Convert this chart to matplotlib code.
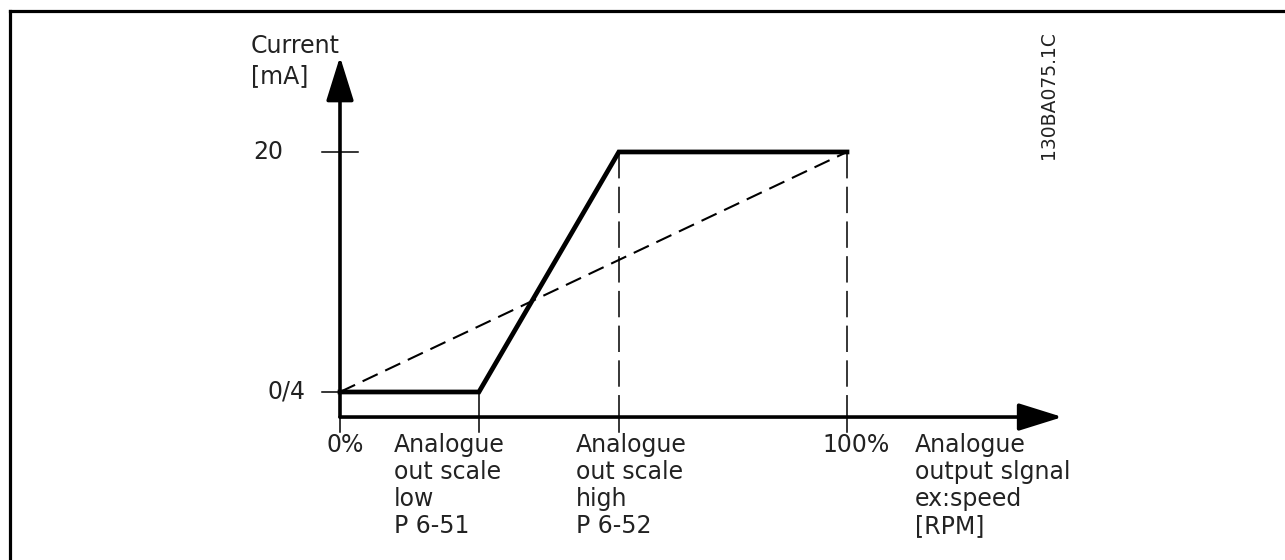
import matplotlib
matplotlib.use("Agg")
import matplotlib.pyplot as plt
from matplotlib.lines import Line2D

# data (x in % of signal, y in mA)
scale_low = 27.4
scale_high = 55.0
out_x = [0, scale_low, scale_high, 100]
out_ma = [4, 4, 20, 20]
lin_x = [0, 100]
lin_ma = [4, 20]
y_ticks = [4, 20]
y_tick_labels = ["0/4", "20"]
x_marks = [0, scale_low, scale_high, 100]
x_mark_labels = [
    "0%",
    "Analogue\nout scale\nlow\nP 6-51",
    "Analogue\nout scale\nhigh\nP 6-52",
    "100%",
]
x_axis_label = "Analogue\noutput slgnal\nex:speed\n[RPM]"
y_axis_label = "Current\n[mA]"
doc_id = "130BA075.1C"

plt.rcParams["font.family"] = ["DejaVu Sans"]
plt.rcParams["lines.scale_dashes"] = False
txt = "#222222"
fs = 17

fig = plt.figure(figsize=(12.85, 5.6), dpi=100)
ax = fig.add_axes([0, 0, 1, 1])
ax.set_xlim(-67.06, 186.39)
ax.set_ylim(-7.2, 30.13)
ax.axis("off")

# frame around the figure (top and left only)
fig.add_artist(Line2D([0.0075, 1.0], [0.9804, 0.9804], color="black", lw=2.3,
                      transform=fig.transFigure, solid_capstyle="projecting"))
fig.add_artist(Line2D([0.0078, 0.0078], [0.0, 0.9804], color="black", lw=2.3,
                      transform=fig.transFigure, solid_capstyle="projecting"))

y_axis_at = 2.33   # where the horizontal axis crosses
y_top = 26.35
x_end = 142.5

arrow = dict(arrowstyle="-|>,head_length=0.8,head_width=0.25", mutation_scale=34,
             color="black", lw=2.6, shrinkA=0, shrinkB=0)
ax.annotate("", xy=(0, y_top), xytext=(0, y_axis_at), arrowprops=arrow)
ax.annotate("", xy=(x_end, y_axis_at), xytext=(0, y_axis_at), arrowprops=arrow)

# y ticks
ax.plot([-3.5, 3.6], [20, 20], color="black", lw=1.1)
ax.plot([-3.5, 0], [4, 4], color="black", lw=1.1)
tick_label_right = [-6.9, -11.2]
for v, lab, xr in zip(y_ticks, y_tick_labels, tick_label_right):
    ax.text(xr, v, lab, ha="right", va="center", fontsize=fs, color=txt)

# x marks below the axis and dashed guides
for xm in x_marks:
    ax.plot([xm, xm], [y_axis_at, 1.33], color="black", lw=1.1)
ax.plot([scale_low, scale_low], [4, y_axis_at], color="black", lw=1.1)
for xm in [scale_high, 100]:
    ax.plot([xm, xm], [20, y_axis_at], color="black", lw=1.1,
            dashes=(19, 6))

# curves
ax.plot(lin_x, lin_ma, color="black", lw=1.5, dashes=(12, 6))
ax.plot(out_x, out_ma, color="black", lw=3.4, solid_joinstyle="miter")

# labels (va baseline = baseline of the last line)
label_left = [-2.6, 10.7, 46.6, 95.1]
for xl, lab in zip(label_left, x_mark_labels):
    ax.text(xl, -5.4 if "\n" in lab else 0.0, lab, ha="left", va="baseline",
            fontsize=fs, color=txt, linespacing=1.15)
ax.text(113.4, -5.4, x_axis_label, ha="left", va="baseline", fontsize=fs,
        color=txt, linespacing=1.15)
ax.text(-17.55, 24.6, y_axis_label, ha="left", va="baseline", fontsize=fs,
        color=txt, linespacing=1.3)
ax.text(139.7, 23.8, doc_id, rotation=90, ha="center", va="center",
        fontsize=13.5, color=txt)

fig.savefig("out.png", dpi=100)
